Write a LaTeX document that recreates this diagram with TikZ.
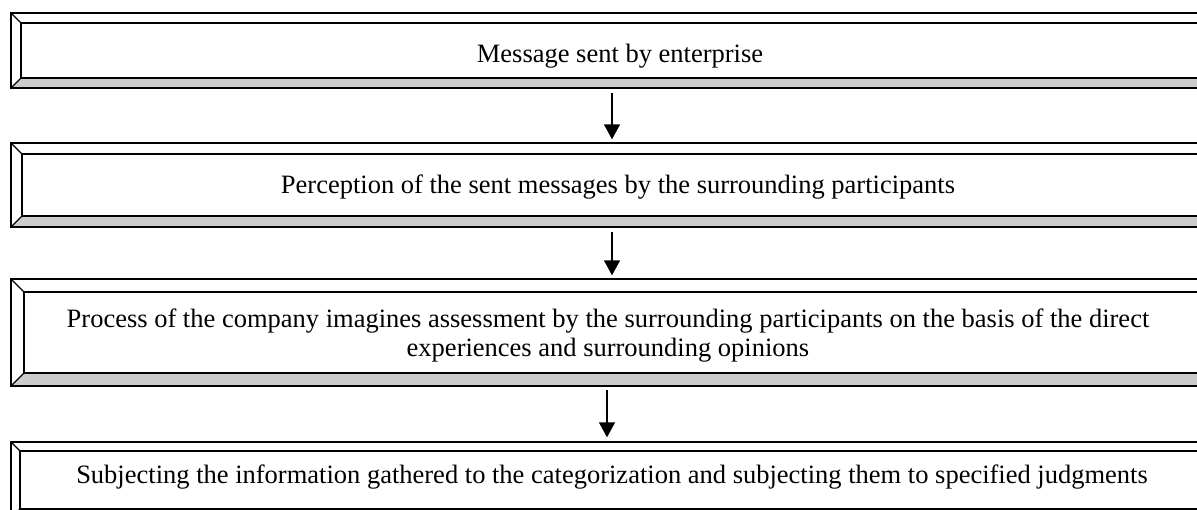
\documentclass[tikz,border=0pt]{standalone}
\usepackage{fontspec}
\setmainfont{Liberation Serif}
\usetikzlibrary{arrows.meta}
\definecolor{bevgray}{gray}{0.80}
\tikzset{
  outer/.style={draw=black, line width=1.4pt, fill=white, inner sep=0pt},
  innerbox/.style={draw=black, line width=1.3pt, inner sep=0pt},
  corner/.style={draw=black, line width=1.1pt},
  label/.style={font=\fontsize{26.5}{29}\selectfont, align=center, inner sep=0pt, anchor=base},
  arr/.style={draw=black, line width=1.4pt, -{Triangle[width=16pt,length=15pt]}},
}
% #1 name, #2 left, #3 top, #4 right, #5 bottom, #6 bevel
\newcommand\bevbox[6]{%
  \node[outer, minimum width={(#4)-(#2)}, minimum height={(#5)-(#3)}]
    (#1) at ({((#2)+(#4))/2},{((#3)+(#5))/2}) {};
  \fill[bevgray] (#2,#5) -- ({#2+#6},{#5-#6}) -- ({#4-#6},{#5-#6}) -- (#4,#5) -- cycle;
  \draw[innerbox] ({#2+#6},{#3+#6}) rectangle ({#4-#6},{#5-#6});
  \draw[corner] (#2,#3) -- ({#2+#6},{#3+#6});
  \draw[corner] (#2,#5) -- ({#2+#6},{#5-#6});
  \draw[line width=1.4pt] (#2,#3) rectangle (#4,#5);
}
\begin{document}
\begin{tikzpicture}[x=1pt,y=-1pt]
\useasboundingbox (0,0) rectangle (1197,509);
\clip (0,0) rectangle (1197,509);
\fill[white] (0,0) rectangle (1197,509);

\bevbox{b1}{11}{13}{1215}{88}{10}
\bevbox{b2}{11}{143}{1215}{227}{11}
\bevbox{b3}{11}{279}{1215}{386}{13}
\bevbox{b4}{11}{442}{1215}{518}{9}

\node[label] (t1) at (620,62) {Message sent by enterprise};
\node[label] (t2) at (618,193) {Perception of the sent messages by the surrounding participants};
\node[label] (t3) at (608,356) {Process of the company imagines assessment by the surrounding participants on the basis of the direct\\experiences and surrounding opinions};
\node[label] (t4) at (612,483) {Subjecting the information gathered to the categorization and subjecting them to specified judgments};

\coordinate (x1) at (612,0);
\coordinate (x3) at (607,0);
\draw[arr] ([yshift=-4pt]b1.south -| x1) -- ([yshift=3pt]b2.north -| x1);
\draw[arr] ([yshift=-4pt]b2.south -| x1) -- ([yshift=3pt]b3.north -| x1);
\draw[arr] ([yshift=-3pt]b3.south -| x3) -- ([yshift=4pt]b4.north -| x3);
\end{tikzpicture}
\end{document}
